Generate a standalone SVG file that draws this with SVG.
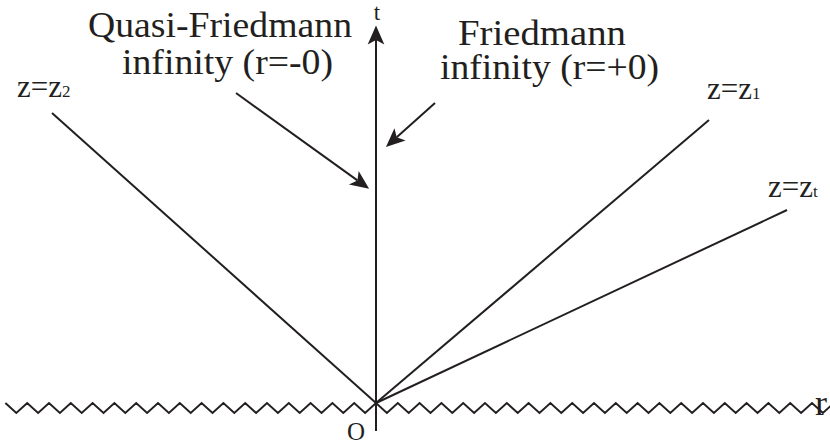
<svg xmlns="http://www.w3.org/2000/svg" width="830" height="444" viewBox="0 0 830 444">
<style>
  .ln { stroke:#231f20; stroke-width:2; fill:none; }
  text { font-family:"Liberation Serif","Times New Roman",serif; fill:#231f20; }
  .big { font-size:36px; }
  .lab { font-size:31px; }
  .sub { font-size:17px; }
</style>
<defs>
  <marker id="ah" markerUnits="userSpaceOnUse" markerWidth="24" markerHeight="20" refX="3" refY="0" viewBox="-2 -9 20 18" orient="auto" overflow="visible">
    <path d="M16,0 L-1,-7.5 L3,0 L-1,7.5 Z" fill="#231f20"/>
  </marker>
</defs>
<rect width="830" height="444" fill="#ffffff"/>
<g id="connectors">
  <path id="zigzag" class="ln" d="M5.4,403 l10.9,10l10.9,-10l10.9,10l10.9,-10l10.9,10l10.9,-10l10.9,10l10.9,-10l10.9,10l10.9,-10l10.9,10l10.9,-10l10.9,10l10.9,-10l10.9,10l10.9,-10l10.9,10l10.9,-10l10.9,10l10.9,-10l10.9,10l10.9,-10l10.9,10l10.9,-10l10.9,10l10.9,-10l10.9,10l10.9,-10l10.9,10l10.9,-10l10.9,10l10.9,-10l10.9,10l10.9,-10l10.9,10l10.9,-10l10.9,10l10.9,-10l10.9,10l10.9,-10l10.9,10l10.9,-10l10.9,10l10.9,-10l10.9,10l10.9,-10l10.9,10l10.9,-10l10.9,10l10.9,-10l10.9,10l10.9,-10l10.9,10l10.9,-10l10.9,10l10.9,-10l10.9,10l10.9,-10l10.9,10l10.9,-10l10.9,10l10.9,-10l10.9,10l10.9,-10l10.9,10l10.9,-10l10.9,10l10.9,-10l10.9,10l10.9,-10l10.9,10l10.9,-10l10.9,10l10.9,-10l10.9,10l10.9,-10l6,10"/>
  <line id="t-axis" class="ln" x1="376" y1="431" x2="376" y2="40" marker-end="url(#ah)"/>
  <line id="line-z2" class="ln" x1="52" y1="113" x2="376" y2="403"/>
  <line id="line-z1" class="ln" x1="709" y1="120" x2="376" y2="403"/>
  <line id="line-zt" class="ln" x1="787" y1="210" x2="376" y2="403"/>
  <line id="arrow-quasi" class="ln" x1="236" y1="93" x2="357.4" y2="180.4" marker-end="url(#ah)"/>
  <line id="arrow-fried" class="ln" x1="435" y1="103" x2="396.7" y2="137.3" marker-end="url(#ah)"/>
</g>
<g id="label-t"><text x="377" y="20" font-size="23" text-anchor="middle">t</text></g>
<g id="label-r"><text x="815" y="415" font-size="36">r</text></g>
<g id="label-O"><text x="347" y="440" font-size="25">O</text></g>
<g id="node-quasi">
  <text class="big" x="88" y="37" textLength="264" lengthAdjust="spacingAndGlyphs">Quasi-Friedmann</text>
  <text class="big" x="122" y="74" textLength="211" lengthAdjust="spacingAndGlyphs">infinity (r=-0)</text>
</g>
<g id="node-friedmann">
  <text class="big" x="458" y="45" textLength="168" lengthAdjust="spacingAndGlyphs">Friedmann</text>
  <text class="big" x="440" y="79" textLength="219" lengthAdjust="spacingAndGlyphs">infinity (r=+0)</text>
</g>
<g id="node-z2"><text class="lab" x="17" y="97">z=z<tspan class="sub">2</tspan></text></g>
<g id="node-z1"><text class="lab" x="707" y="99">z=z<tspan class="sub">1</tspan></text></g>
<g id="node-zt"><text class="lab" x="768" y="197">z=z<tspan class="sub">t</tspan></text></g>
</svg>
